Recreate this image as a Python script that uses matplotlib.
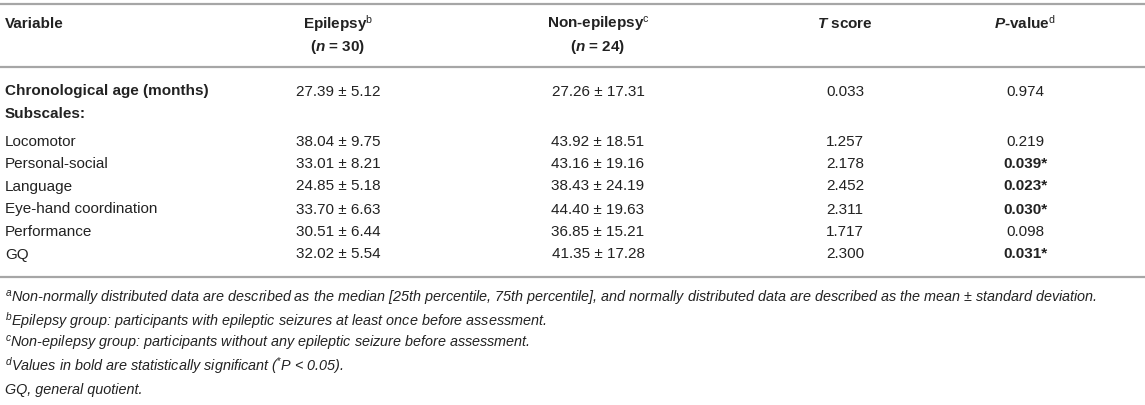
import matplotlib.pyplot as plt

plt.rcParams['font.family'] = 'Liberation Sans'
plt.rcParams['mathtext.fontset'] = 'custom'
plt.rcParams['mathtext.rm'] = 'Liberation Sans'
plt.rcParams['mathtext.it'] = 'Liberation Sans:italic'
plt.rcParams['mathtext.bf'] = 'Liberation Sans:bold'
plt.rcParams['mathtext.bfit'] = 'Liberation Sans:italic:bold'

headers = ['Variable', 'Epilepsy$^{\\mathrm{b}}$', 'Non-epilepsy$^{\\mathrm{c}}$',
           '$\\mathbfit{T}$ score', '$\\mathbfit{P}$-value$^{\\mathrm{d}}$']
header_n = ['', '($\\mathbfit{n}$ = 30)', '($\\mathbfit{n}$ = 24)', '', '']

variables = ['Chronological age (months)', 'Subscales:', 'Locomotor', 'Personal-social',
             'Language', 'Eye-hand coordination', 'Performance', 'GQ']
bold_rows = [True, True, False, False, False, False, False, False]
epilepsy = ['27.39 ± 5.12', '', '38.04 ± 9.75', '33.01 ± 8.21', '24.85 ± 5.18',
            '33.70 ± 6.63', '30.51 ± 6.44', '32.02 ± 5.54']
non_epilepsy = ['27.26 ± 17.31', '', '43.92 ± 18.51', '43.16 ± 19.16', '38.43 ± 24.19',
                '44.40 ± 19.63', '36.85 ± 15.21', '41.35 ± 17.28']
t_scores = ['0.033', '', '1.257', '2.178', '2.452', '2.311', '1.717', '2.300']
p_values = ['0.974', '', '0.219', '0.039*', '0.023*', '0.030*', '0.098', '0.031*']
p_bold = [False, False, False, True, True, True, False, True]

footnotes = [
    '$^{a}$Non-normally distributed data are described as the median [25th percentile, 75th percentile], '
    'and normally distributed data are described as the mean ± standard deviation.',
    '$^{b}$Epilepsy group: participants with epileptic seizures at least once before assessment.',
    '$^{c}$Non-epilepsy group: participants without any epileptic seizure before assessment.',
    '$^{d}$Values in bold are statistically significant ($^{*}$P < 0.05).',
    'GQ, general quotient.',
]

W, H = 1145, 405
fig = plt.figure(figsize=(W / 100, H / 100), dpi=100)
ax = fig.add_axes([0, 0, 1, 1])
ax.set_xlim(0, W)
ax.set_ylim(H, 0)
ax.axis('off')

txt = '#222222'
fs = 11
ffs = 10.4
col_x = [5, 338, 598, 845, 1025]
base = 5.5  # center -> baseline offset in px

# rules
for y in [4, 67, 277]:
    ax.plot([0, W], [y, y], color='#a6a6a6', lw=1.6, solid_capstyle='butt')

# header
for i, h in enumerate(headers):
    ha = 'left' if i == 0 else 'center'
    ax.text(col_x[i], 23 + base, h, ha=ha, va='baseline', fontsize=fs, fontweight='bold', color=txt)
    if header_n[i]:
        ax.text(col_x[i], 45 + base, header_n[i], ha='center', va='baseline', fontsize=fs,
                fontweight='bold', color=txt)

# body
row_y = [90, 113, 140, 162, 185, 208, 230, 253]
for r, y in enumerate(row_y):
    yb = y + base
    ax.text(col_x[0], yb, variables[r], ha='left', va='baseline', fontsize=fs,
            fontweight='bold' if bold_rows[r] else 'normal', color=txt)
    ax.text(col_x[1], yb, epilepsy[r], ha='center', va='baseline', fontsize=fs, color=txt)
    ax.text(col_x[2], yb, non_epilepsy[r], ha='center', va='baseline', fontsize=fs, color=txt)
    ax.text(col_x[3], yb, t_scores[r], ha='center', va='baseline', fontsize=fs, color=txt)
    ax.text(col_x[4], yb, p_values[r], ha='center', va='baseline', fontsize=fs, color=txt,
            fontweight='bold' if p_bold[r] else 'normal')

# footnotes
foot_y = [298, 321, 343, 366, 389]
for y, f in zip(foot_y, footnotes):
    ax.text(col_x[0], y + 5, f, ha='left', va='baseline', fontsize=ffs, fontstyle='italic', color=txt)

fig.savefig('out.png', dpi=100)
